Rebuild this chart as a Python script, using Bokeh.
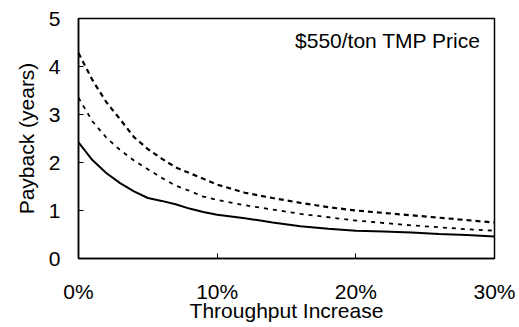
from bokeh.plotting import figure
from bokeh.models import Range1d, Label, FixedTicker
from bokeh.embed import file_html
from bokeh.resources import INLINE

throughput_pct = [0, 1, 2, 3, 4, 5, 6, 7, 8, 9, 10, 12, 14, 16, 18, 20, 22, 24, 26, 28, 30]
payback_upper = [4.28, 3.72, 3.26, 2.90, 2.53, 2.28, 2.08, 1.90, 1.78, 1.66, 1.54, 1.37, 1.26, 1.16, 1.07, 1.00, 0.95, 0.90, 0.85, 0.80, 0.75]
payback_middle = [3.35, 2.86, 2.52, 2.26, 2.04, 1.86, 1.68, 1.52, 1.41, 1.29, 1.22, 1.11, 1.02, 0.93, 0.86, 0.79, 0.74, 0.69, 0.65, 0.61, 0.58]
payback_solid = [2.42, 2.05, 1.78, 1.57, 1.40, 1.26, 1.20, 1.13, 1.04, 0.97, 0.91, 0.84, 0.75, 0.67, 0.62, 0.58, 0.56, 0.54, 0.51, 0.49, 0.46]

x_ticks = [0, 10, 20, 30]
x_tick_labels = ["0%", "10%", "20%", "30%"]
y_ticks = [0, 1, 2, 3, 4, 5]
annotation = "$550/ton TMP Price"

FONT = "Liberation Sans"
FS = "21px"

p = figure(width=519, height=327, output_backend="svg", toolbar_location=None,
           x_range=Range1d(0, 30), y_range=Range1d(0, 5),
           min_border_left=78, min_border_right=25, min_border_top=18, min_border_bottom=69)
p.background_fill_color = "white"
p.border_fill_color = "white"
p.outline_line_color = "black"
p.outline_line_width = 1.5
p.xgrid.visible = False
p.ygrid.visible = False

p.line(throughput_pct, payback_upper, line_color="black", line_width=2.2, line_dash="5 4")
p.line(throughput_pct, payback_middle, line_color="black", line_width=1.8, line_dash="4 5")
p.line(throughput_pct, payback_solid, line_color="black", line_width=2.0)

xa = p.xaxis[0]
xa.ticker = FixedTicker(ticks=x_ticks)
xa.major_label_overrides = {t: l for t, l in zip(x_ticks, x_tick_labels)}
xa.axis_label = "Throughput Increase"
xa.major_tick_in = 5
xa.major_tick_out = 0
xa.minor_tick_line_color = None
xa.axis_line_width = 1.5
xa.major_label_standoff = 21
xa.axis_label_standoff = -7
xa.major_label_text_font = FONT
xa.major_label_text_font_size = FS
xa.major_label_text_color = "black"
xa.axis_label_text_font = FONT
xa.axis_label_text_font_size = FS
xa.axis_label_text_font_style = "normal"
xa.axis_label_text_color = "black"

ya = p.yaxis[0]
ya.ticker = FixedTicker(ticks=y_ticks)
ya.axis_label = "Payback (years)"
ya.major_tick_in = 5
ya.major_tick_out = 0
ya.minor_tick_line_color = None
ya.axis_line_width = 1.5
ya.major_label_standoff = 18
ya.axis_label_standoff = 8
ya.major_label_text_font = FONT
ya.major_label_text_font_size = FS
ya.major_label_text_color = "black"
ya.axis_label_text_font = FONT
ya.axis_label_text_font_size = FS
ya.axis_label_text_font_style = "normal"
ya.axis_label_text_color = "black"

p.add_layout(Label(x=29.0, y=4.54, text=annotation, text_align="right", text_baseline="middle",
                   text_font=FONT, text_font_size=FS, text_color="black"))

open("out.html", "w").write(file_html(p, INLINE))
